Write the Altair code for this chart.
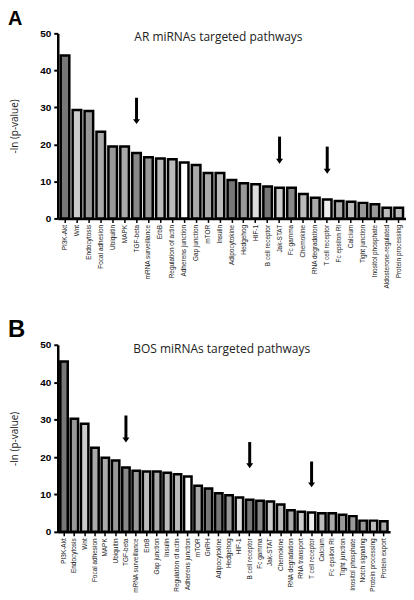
import altair as alt
import pandas as pd

# ---------------- data ----------------
a_paths = ["PI3K-Akt", "Wnt", "Endocytosis", "Focal adhesion", "Ubiquitin", "MAPK",
           "TGF-beta", "mRNA surveillance", "ErbB", "Regulation of actin",
           "Adherens junction", "Gap junction", "mTOR", "Insulin", "Adipocytokine",
           "Hedgehog", "HIF-1", "B cell receptor", "Jak-STAT", "Fc gamma", "Chemokine",
           "RNA degradation", "T cell receptor", "Fc epsilon RI", "Calcium",
           "Tight junction", "Inositol phosphate", "Aldosterone-regulated",
           "Protein processing"]
a_vals = [44.0, 29.3, 29.0, 23.4, 19.4, 19.4, 17.7, 16.5, 16.2, 16.0, 15.1, 14.4,
          12.3, 12.3, 10.4, 9.5, 9.2, 8.6, 8.3, 8.3, 6.6, 5.6, 5.1, 4.7, 4.5, 4.2,
          3.8, 2.9, 2.9]

b_paths = ["PI3K-Akt", "Endocytosis", "Wnt", "Focal adhesion", "MAPK", "Ubiquitin",
           "TGF-beta", "mRNA surveillance", "ErbB", "Gap junction", "Insulin",
           "Regulation of actin", "Adherens junction", "mTOR", "GnRH", "Adipocytokine",
           "Hedgehog", "HIF-1", "B cell receptor", "Fc gamma", "Jak-STAT", "Chemokine",
           "RNA degradation", "RNA transport", "T cell receptor", "Calcium",
           "Fc epsilon RI", "Tight junction", "Inositol phosphate", "Notch signaling",
           "Protein processing", "Protein export"]
b_vals = [45.5, 30.2, 28.9, 22.5, 19.8, 19.1, 17.2, 16.3, 16.1, 16.1, 15.8, 15.4,
          14.8, 12.3, 11.6, 10.3, 9.8, 9.2, 8.6, 8.3, 8.1, 7.3, 5.8, 5.4, 5.2, 5.0,
          5.0, 4.6, 4.2, 3.0, 3.0, 2.8]

a_arrow_paths = ["TGF-beta", "Jak-STAT", "T cell receptor"]
a_arrow_top = [32.6, 22.1, 19.4]
a_arrow_tip = [25.5, 14.8, 12.1]

b_arrow_paths = ["TGF-beta", "B cell receptor", "T cell receptor"]
b_arrow_top = [31.1, 24.0, 18.8]
b_arrow_tip = [23.9, 17.0, 11.9]

y_ticks = [0, 10, 20, 30, 40, 50]

# ---------------- styles ----------------
a_shades = ["#777", "#ccc", "#999", "#aaa", "#999", "#aaa", "#888", "#999", "#bbb",
            "#bbb", "#fff", "#aaa", "#aaa", "#bbb", "#777", "#999", "#ddd", "#777",
            "#ccc", "#888", "#bbb", "#aaa", "#eee", "#aaa", "#bbb", "#999", "#999",
            "#bbb", "#bbb"]
b_shades = ["#777", "#ccc", "#aaa", "#bbb", "#999", "#aaa", "#888", "#999", "#bbb",
            "#bbb", "#fff", "#bbb", "#aaa", "#999", "#999", "#aaa", "#aaa", "#bbb",
            "#aaa", "#bbb", "#999", "#aaa", "#ddd", "#bbb", "#eee", "#ddd", "#999",
            "#bbb", "#aaa", "#aaa", "#bbb", "#aaa"]

LABEL_FONT = "Liberation Sans"
Y_TITLE = "-ln (p-value)"


def panel(paths, vals, arr_p, arr_top, arr_tip, shades, title, letter,
          letter_size, width, height, title_x):
    df = pd.DataFrame({"pathway": paths, "value": vals})
    arr = pd.DataFrame({"pathway": arr_p, "top": arr_top, "tip": arr_tip})

    xscale = alt.Scale(domain=paths, paddingInner=0.28, paddingOuter=0.25)
    yscale = alt.Scale(domain=[0, 50], nice=False)
    xaxis = alt.Axis(labelAngle=270, labelFont=LABEL_FONT, labelFontSize=6.5,
                     labelColor="#222", tickSize=4, tickWidth=1.5,
                     tickColor="black", domainColor="black", domainWidth=2.5,
                     labelPadding=2, labelLimit=0, labelOverlap=False)
    yaxis = alt.Axis(values=y_ticks, grid=False,
                     labelOverlap=False, labelFlush=False,
                     labelFont=LABEL_FONT, labelFontWeight="bold",
                     labelFontSize=10, labelColor="black", tickSize=4,
                     tickWidth=2, tickColor="black", domainColor="black",
                     domainWidth=2.5, labelPadding=3,
                     titleFont="Open Sans", titleFontSize=10,
                     titleFontWeight="normal", titleColor="#222",
                     titlePadding=20)
    x = alt.X("pathway:N", sort=paths, title=None, scale=xscale, axis=xaxis)

    bars = alt.Chart(df).mark_bar(strokeWidth=2.5).encode(
        x=x,
        y=alt.Y("value:Q", title=Y_TITLE, scale=yscale, axis=yaxis),
        fill=alt.Fill("pathway:N", scale=alt.Scale(domain=paths, range=shades),
                      legend=None),
        stroke=alt.value("black"))

    shafts = alt.Chart(arr).mark_rule(color="black", strokeWidth=3,
                                      y2Offset=-3).encode(
        x=x, y=alt.Y("top:Q", title=Y_TITLE, scale=yscale, axis=yaxis),
        y2="tip:Q")
    heads = alt.Chart(arr).mark_point(
        shape="M -1 -1.4 L 1 -1.4 L 0 0 Z", filled=True, size=49,
        color="black", opacity=1).encode(
        x=x, y=alt.Y("tip:Q", title=Y_TITLE, scale=yscale, axis=yaxis))

    ttl = alt.Chart(pd.DataFrame({"t": [title]})).mark_text(
        font="Open Sans", fontSize=12, align="left", baseline="middle",
        color="#222").encode(x=alt.value(title_x), y=alt.value(4), text="t:N")
    let = alt.Chart(pd.DataFrame({"t": [letter]})).mark_text(
        font=LABEL_FONT, fontSize=letter_size, fontWeight="bold", align="left",
        baseline="alphabetic", color="black").encode(
        x=alt.value(-50), y=alt.value(-8), text="t:N")

    return alt.layer(bars, shafts, heads, ttl, let).properties(
        width=width, height=height)


top = panel(a_paths, a_vals, a_arrow_paths, a_arrow_top, a_arrow_tip, a_shades,
            "AR miRNAs targeted pathways", "A", 20, 350, 186, 77)
bottom = panel(b_paths, b_vals, b_arrow_paths, b_arrow_top, b_arrow_tip, b_shades,
               "BOS miRNAs targeted pathways", "B", 24, 334, 188, 76)

chart = alt.vconcat(top, bottom, spacing=30).properties(
    padding={"left": 0, "top": 0, "right": 0, "bottom": 0}
).configure(background="white", view=alt.ViewConfig(stroke=None))

chart.save("out.html", embed_options={"renderer": "svg", "actions": False})
